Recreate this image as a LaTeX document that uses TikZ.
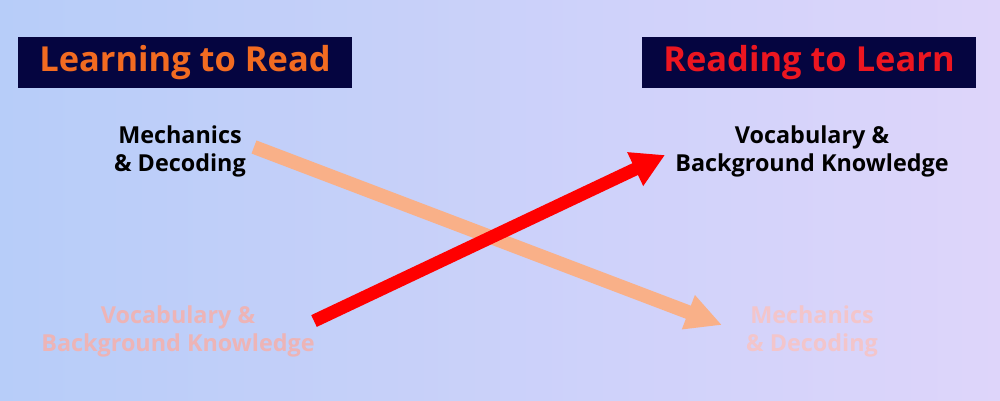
\documentclass[tikz,border=0pt]{standalone}
\usepackage{fontspec}
\setmainfont{Open Sans}
\usetikzlibrary{arrows.meta}
\definecolor{bgleft}{RGB}{183,205,249}
\definecolor{bgright}{RGB}{222,213,250}
\definecolor{navy}{RGB}{5,5,64}
\definecolor{titleorange}{RGB}{242,107,33}
\definecolor{titlered}{RGB}{236,22,32}
\definecolor{peach}{RGB}{249,176,136}
\definecolor{fadeleft}{RGB}{237,180,182}
\definecolor{faderight}{RGB}{243,197,202}
\tikzset{
  titlebox/.style={fill=navy,minimum width=6.68cm,minimum height=1.02cm,inner sep=0pt,
    font=\fontsize{19.6}{22}\selectfont\bfseries},
  label/.style={align=center,font=\fontsize{13.3}{16}\selectfont\bfseries},
}
\begin{document}
\begin{tikzpicture}[x=0.02cm,y=-0.02cm]
        \useasboundingbox (0,0) rectangle (1000,400);
        \shade[left color=bgleft,right color=bgright] (0,0) rectangle (1000,400);
        \node[titlebox,text=titleorange] (ltr) at (185,62.5) {Learning to Read};
        \node[titlebox,text=titlered] (rtl) at (809,62.5) {Reading to Learn};
        \node[label] (mechA) at (180,151) {Mechanics\\\& Decoding};
        \node[label] (vocA) at (812,151) {Vocabulary \&\\Background Knowledge};
        \node[label,text=fadeleft] (vocB) at (178,331) {Vocabulary \&\\Background Knowledge};
        \node[label,text=faderight] (mechB) at (812,331) {Mechanics\\\& Decoding};
        \coordinate (ps) at (254,147);
        \coordinate (pe) at (722,325);
        \coordinate (rs) at (314,321);
        \coordinate (re) at (665,155);
        \draw[peach,line width=0.28cm,-{Triangle[length=0.72cm,width=0.68cm]}] (ps) -- (pe);
        \draw[red,line width=0.26cm,-{Triangle[length=0.66cm,width=0.7cm]}] (rs) -- (re);
\end{tikzpicture}
\end{document}
